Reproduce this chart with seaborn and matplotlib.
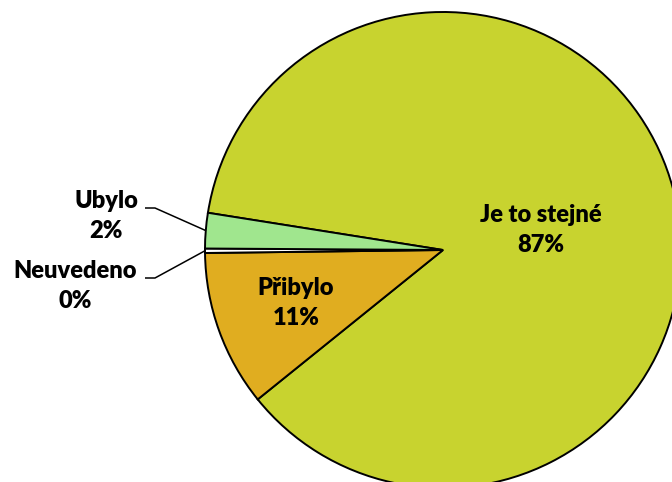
import numpy as np
import matplotlib
matplotlib.use("Agg")
import matplotlib.pyplot as plt
import seaborn as sns

sns.set_theme(style="white")
plt.rcParams["font.family"] = ["Lato", "DejaVu Sans"]

# Survey answers (share of respondents, %)
categories = ["Je to stejné", "Přibylo", "Neuvedeno", "Ubylo"]
shares = [86.7, 10.6, 0.3, 2.4]
colors = ["#C8D32F", "#E0AD20", "#FFFFFF", "#A0E68E"]

W, H = 672, 482
cx, cy, R = 443, 250, 238  # pie centre and radius in pixels


def px(x, y):
    """Pixel position -> data coordinates (radius = 1)."""
    return (x - cx) / R, (cy - y) / R


fig = plt.figure(figsize=(W / 100, H / 100), dpi=100)
ax = fig.add_axes([0, 0, 1, 1])
wedges, _ = ax.pie(
    shares, colors=colors, startangle=171, counterclock=False,
    wedgeprops=dict(edgecolor="black", linewidth=1.4),
)
ax.set_aspect("auto")
x0, _ = px(0, 0)
x1, _ = px(W, 0)
_, y0 = px(0, H)
_, y1 = px(0, 0)
ax.set_xlim(x0, x1)
ax.set_ylim(y0, y1)
ax.axis("off")

labels = [f"{c}\n{v:.0f}%" for c, v in zip(categories, shares)]
fs = 17
txt = dict(ha="center", va="center", fontsize=fs, fontweight="heavy",
           color="black", linespacing=1.45, multialignment="center")

# labels inside the large slices
ax.text(*px(541, 230), labels[0], **txt)
ax.text(*px(296, 303), labels[1], **txt)

# outside labels with leader lines for the thin slices
outside = {2: ((75, 286), (145, 278)), 3: ((106, 216), (145, 208))}
for i, (tpos, lpos) in outside.items():
    ax.text(*px(*tpos), labels[i], **txt)
    w = wedges[i]
    mid = np.deg2rad((w.theta1 + w.theta2) / 2)
    ex, ey = np.cos(mid), np.sin(mid)
    sx, sy = px(*lpos)
    kx, ky = px(lpos[0] + 10, lpos[1])
    ax.plot([sx, kx, ex], [sy, ky, ey], color="black", lw=1.1,
            solid_capstyle="butt", clip_on=False)

fig.savefig("out.png", dpi=100, facecolor="white")
